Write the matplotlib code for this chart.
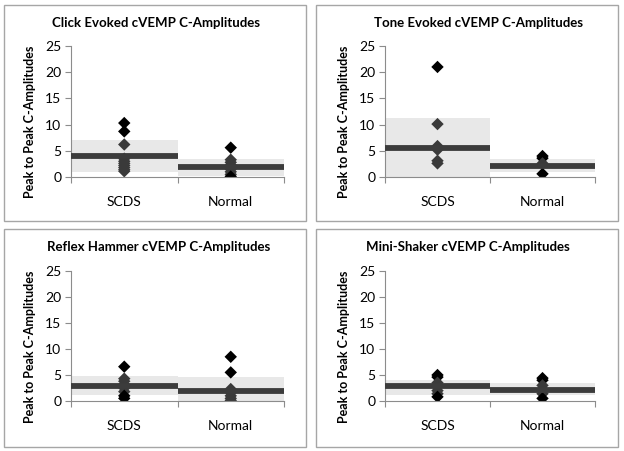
import matplotlib.pyplot as plt
from matplotlib.patches import Rectangle

plt.rcParams['font.family'] = ['Lato', 'DejaVu Sans']

titles = ["Click Evoked cVEMP C-Amplitudes", "Tone Evoked cVEMP C-Amplitudes",
          "Reflex Hammer cVEMP C-Amplitudes", "Mini-Shaker cVEMP C-Amplitudes"]
groups = ["SCDS", "Normal"]

# individual amplitudes (SCDS, Normal) per stimulus
click_scds = [10.3, 8.7, 6.2, 3.5, 3.0, 2.6, 2.2, 1.8, 1.4, 1.1]
click_normal = [5.6, 3.3, 2.8, 2.3, 1.5, 1.0, 0.5, 0.1]
tone_scds = [21.0, 10.1, 5.9, 5.2, 3.1, 2.6]
tone_normal = [4.0, 3.6, 2.6, 0.6]
hammer_scds = [6.6, 4.3, 3.8, 3.2, 2.5, 1.8, 1.0, 0.5]
hammer_normal = [8.5, 5.5, 2.3, 1.6, 1.0, 0.5, 0.1]
shaker_scds = [5.0, 4.6, 3.5, 2.8, 2.0, 1.4, 0.8]
shaker_normal = [4.4, 4.0, 3.0, 2.2, 1.4, 0.5]

# mean and shaded range (low, high)
means = [[4.1, 1.85], [5.6, 2.1], [2.9, 1.9], [2.8, 2.1]]
band_low = [[1.0, 0.2], [0.0, 1.0], [1.2, 0.0], [1.2, 1.2]]
band_high = [[7.0, 3.4], [11.2, 3.4], [4.8, 4.6], [4.1, 3.4]]

points = [[click_scds, click_normal], [tone_scds, tone_normal],
          [hammer_scds, hammer_normal], [shaker_scds, shaker_normal]]

fig = plt.figure(figsize=(6.24, 4.51), dpi=100)
W, H = 624.0, 451.0

# panel frames (px): left, top, right, bottom
frames = [(4, 5, 306, 221), (316, 5, 618, 221), (4, 229, 306, 447), (316, 229, 618, 447)]
# axes boxes (px): left, top(25), right, bottom(0)
boxes = [(71, 46, 284, 177), (385, 46, 595, 177), (71, 271, 284, 401), (385, 271, 595, 401)]
title_x = [156, 478, 159, 468]

for i in range(4):
    l, t, r, b = frames[i]
    fig.patches.append(Rectangle((l / W, 1 - b / H), (r - l) / W, (b - t) / H,
                                 transform=fig.transFigure, fill=False,
                                 edgecolor='#a6a6a6', linewidth=1.0))
    fig.text(title_x[i] / W, 1 - (t + 18) / H, titles[i], fontsize=9.5,
             fontweight='bold', ha='center', va='center')
    l, t, r, b = boxes[i]
    ax = fig.add_axes([l / W, 1 - b / H, (r - l) / W, (b - t) / H])

    for j in range(2):
        ax.fill_between([j, j + 1], band_low[i][j], band_high[i][j],
                        color='#e8e8e8', zorder=1, linewidth=0)
        vals = points[i][j]
        cols = ['#3a3a3a' if band_low[i][j] <= v <= band_high[i][j] else 'black'
                for v in vals]
        ax.scatter([j + 0.5] * len(vals), vals, marker='D', s=40, c=cols,
                   zorder=2, linewidths=0)
        ax.plot([j, j + 1], [means[i][j], means[i][j]], color='#3c3c3c',
                linewidth=4.2, solid_capstyle='butt', zorder=3)

    ax.set_xlim(0, 2)
    ax.set_ylim(0, 25)
    ax.set_yticks([0, 5, 10, 15, 20, 25])
    ax.set_xticks([0, 1, 2])
    ax.set_xticklabels([])
    ax.set_xticks([0.5, 1.5], minor=True)
    ax.set_xticklabels(groups, minor=True)
    ax.tick_params(axis='x', which='minor', length=0, pad=14, labelsize=10)
    ax.tick_params(axis='x', which='major', length=4, color='#8c8c8c')
    ax.tick_params(axis='y', length=4, color='#8c8c8c', labelsize=10, pad=3)
    for s in ['top', 'right']:
        ax.spines[s].set_visible(False)
    for s in ['left', 'bottom']:
        ax.spines[s].set_color('#8c8c8c')
    ax.set_ylabel("Peak to Peak C-Amplitudes", fontsize=9, fontweight='bold')
    ax.yaxis.set_label_coords(-0.165, 0.42)

fig.savefig("out.png", dpi=100)
